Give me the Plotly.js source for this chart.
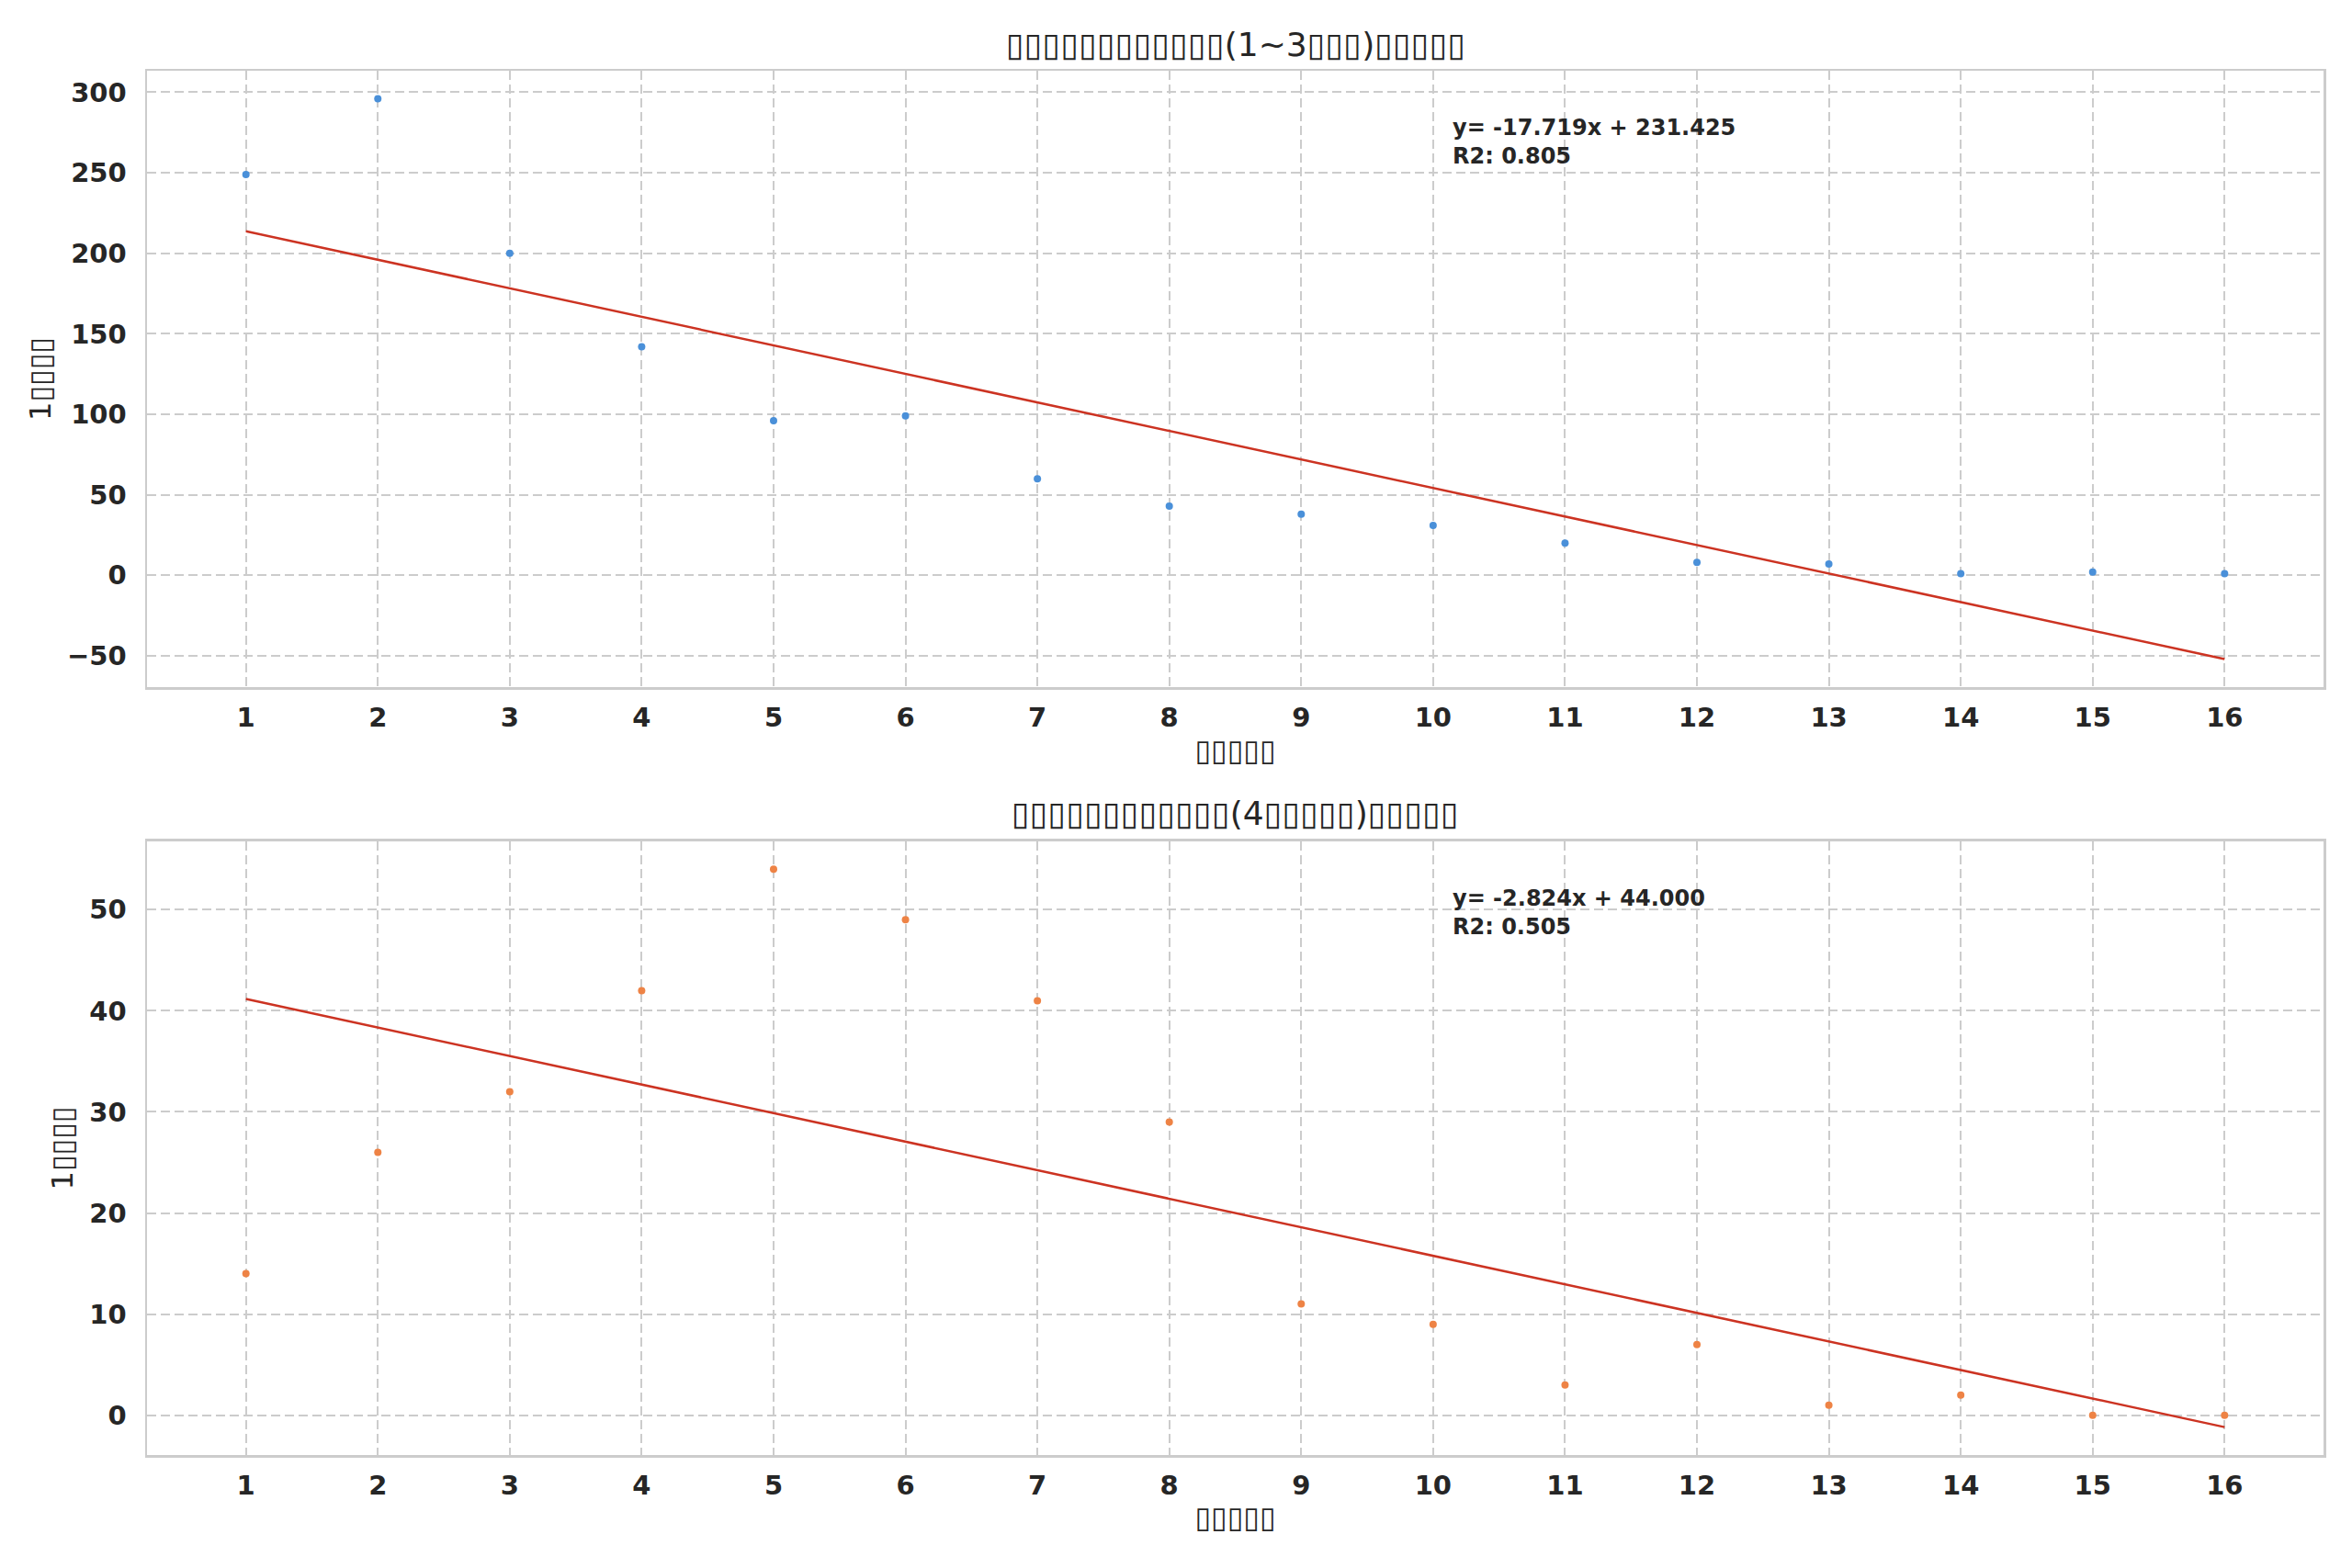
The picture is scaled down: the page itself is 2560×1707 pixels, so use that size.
<!DOCTYPE html>
<html>
<head>
<meta charset="utf-8">
<script src="https://cdn.plot.ly/plotly-3.0.1.min.js"></script>
<style>
  html, body { margin: 0; padding: 0; background: #fff; }
  #plot { width: 2560px; height: 1707px; }
</style>
</head>
<body>
<div id="plot"></div>
<script>
// period index, shared by both panels
var periods = [1, 2, 3, 4, 5, 6, 7, 8, 9, 10, 11, 12, 13, 14, 15, 16];
// counts for the "1~3" group (top) and the "4+" group (bottom)
var countsTop = [249, 296, 200, 142, 96, 99, 60, 43, 38, 31, 20, 8, 7, 1, 2, 1];
var countsBottom = [14, 26, 32, 42, 54, 49, 41, 29, 11, 9, 3, 7, 1, 2, 0, 0];
var yTicksTop = [-50, 0, 50, 100, 150, 200, 250, 300];
var yTicksBottom = [0, 10, 20, 30, 40, 50];

// titles as drawn in the source (glyphs missing there)
var titleTop = '▯▯▯▯▯▯▯▯▯▯▯▯(1~3▯▯▯)▯▯▯▯▯';
var titleBottom = '▯▯▯▯▯▯▯▯▯▯▯▯(4▯▯▯▯▯)▯▯▯▯▯';
var xLabel = '▯▯▯▯▯';
var yLabel = '1▯▯▯▯';

var linfit = function(xs, ys) {
  var n = xs.length, mx = 0, my = 0, sxy = 0, sxx = 0, ssr = 0, sst = 0, i, slope, icpt, fit;
  for (i = 0; i < n; i++) { mx += xs[i]; my += ys[i]; }
  mx /= n; my /= n;
  for (i = 0; i < n; i++) {
    sxy += (xs[i] - mx) * (ys[i] - my);
    sxx += (xs[i] - mx) * (xs[i] - mx);
  }
  slope = sxy / sxx;
  icpt = my - slope * mx;
  fit = xs.map(function(x) { return slope * x + icpt; });
  for (i = 0; i < n; i++) {
    ssr += (ys[i] - fit[i]) * (ys[i] - fit[i]);
    sst += (ys[i] - my) * (ys[i] - my);
  }
  return { slope: slope, intercept: icpt, r2: 1 - ssr / sst, fit: fit };
};

var fitTop = linfit(periods, countsTop);
var fitBottom = linfit(periods, countsBottom);

var eqText = function(f) {
  return 'y= ' + f.slope.toFixed(3) + 'x + ' + f.intercept.toFixed(3) + '<br>R2: ' + f.r2.toFixed(3);
};

var padRange = function(vals) {
  var lo = Math.min.apply(null, vals), hi = Math.max.apply(null, vals), m = (hi - lo) * 0.05;
  return [lo - m, hi + m];
};

var data = [
  { x: periods, y: countsTop, mode: 'markers', type: 'scatter', xaxis: 'x', yaxis: 'y',
    marker: { color: '#4a90d9', size: 8 } },
  { x: periods, y: fitTop.fit, mode: 'lines', type: 'scatter', xaxis: 'x', yaxis: 'y',
    line: { color: '#cc3322', width: 2.5 } },
  { x: periods, y: countsBottom, mode: 'markers', type: 'scatter', xaxis: 'x2', yaxis: 'y2',
    marker: { color: '#ee8345', size: 8 } },
  { x: periods, y: fitBottom.fit, mode: 'lines', type: 'scatter', xaxis: 'x2', yaxis: 'y2',
    line: { color: '#cc3322', width: 2.5 } }
];

var tickFont = { family: 'DejaVu Sans', size: 29, color: '#262626', weight: 'bold' };
var labelFont = { family: 'DejaVu Sans', size: 32, color: '#262626' };

var xAxisBase = function(anchor) {
  return {
    anchor: anchor,
    range: [0.25, 16.75],
    tickvals: periods,
    ticktext: periods.map(String),
    tickfont: tickFont,
    ticks: 'outside', ticklen: 6, tickcolor: 'rgba(0,0,0,0)',
    showgrid: true, gridcolor: '#cccccc', gridwidth: 2, griddash: '10px,5px',
    zeroline: false,
    showline: true, mirror: true, linecolor: '#cccccc', linewidth: 2.5,
    title: { text: xLabel, font: labelFont, standoff: 8 }
  };
};

var yAxisBase = function(anchor, domain, range, ticks) {
  return {
    anchor: anchor,
    domain: domain,
    range: range,
    tickvals: ticks,
    tickfont: tickFont,
    ticks: 'outside', ticklen: 14, tickcolor: 'rgba(0,0,0,0)',
    showgrid: true, gridcolor: '#cccccc', gridwidth: 2, griddash: '10px,5px',
    zeroline: false,
    showline: true, mirror: true, linecolor: '#cccccc', linewidth: 2.5,
    title: { text: yLabel, font: labelFont, standoff: 8 }
  };
};

var allTop = countsTop.concat(fitTop.fit);
var allBottom = countsBottom.concat(fitBottom.fit);

var layout = {
  width: 2560,
  height: 1707,
  margin: { l: 160, r: 31, t: 77, b: 123 },
  paper_bgcolor: '#ffffff',
  plot_bgcolor: '#ffffff',
  showlegend: false,
  xaxis: xAxisBase('y'),
  yaxis: yAxisBase('x', [0.5547, 1], padRange(allTop), yTicksTop),
  xaxis2: xAxisBase('y2'),
  yaxis2: yAxisBase('x2', [0, 0.4433], padRange(allBottom), yTicksBottom),
  annotations: [
    { text: titleTop, xref: 'paper', yref: 'paper', x: 0.5, y: 1.0186,
      xanchor: 'center', yanchor: 'middle', showarrow: false,
      font: { family: 'DejaVu Sans', size: 36, color: '#262626' } },
    { text: titleBottom, xref: 'paper', yref: 'paper', x: 0.5, y: 0.4638,
      xanchor: 'center', yanchor: 'middle', showarrow: false,
      font: { family: 'DejaVu Sans', size: 36, color: '#262626' } },
    { text: eqText(fitTop), xref: 'x domain', yref: 'y domain', x: 0.599, y: 0.931,
      xanchor: 'left', yanchor: 'top', align: 'left', showarrow: false,
      font: { family: 'DejaVu Sans', size: 24, color: '#262626', weight: 'bold' } },
    { text: eqText(fitBottom), xref: 'x2 domain', yref: 'y2 domain', x: 0.599, y: 0.931,
      xanchor: 'left', yanchor: 'top', align: 'left', showarrow: false,
      font: { family: 'DejaVu Sans', size: 24, color: '#262626', weight: 'bold' } }
  ]
};

Plotly.newPlot('plot', data, layout, { staticPlot: true });
</script>
</body>
</html>
